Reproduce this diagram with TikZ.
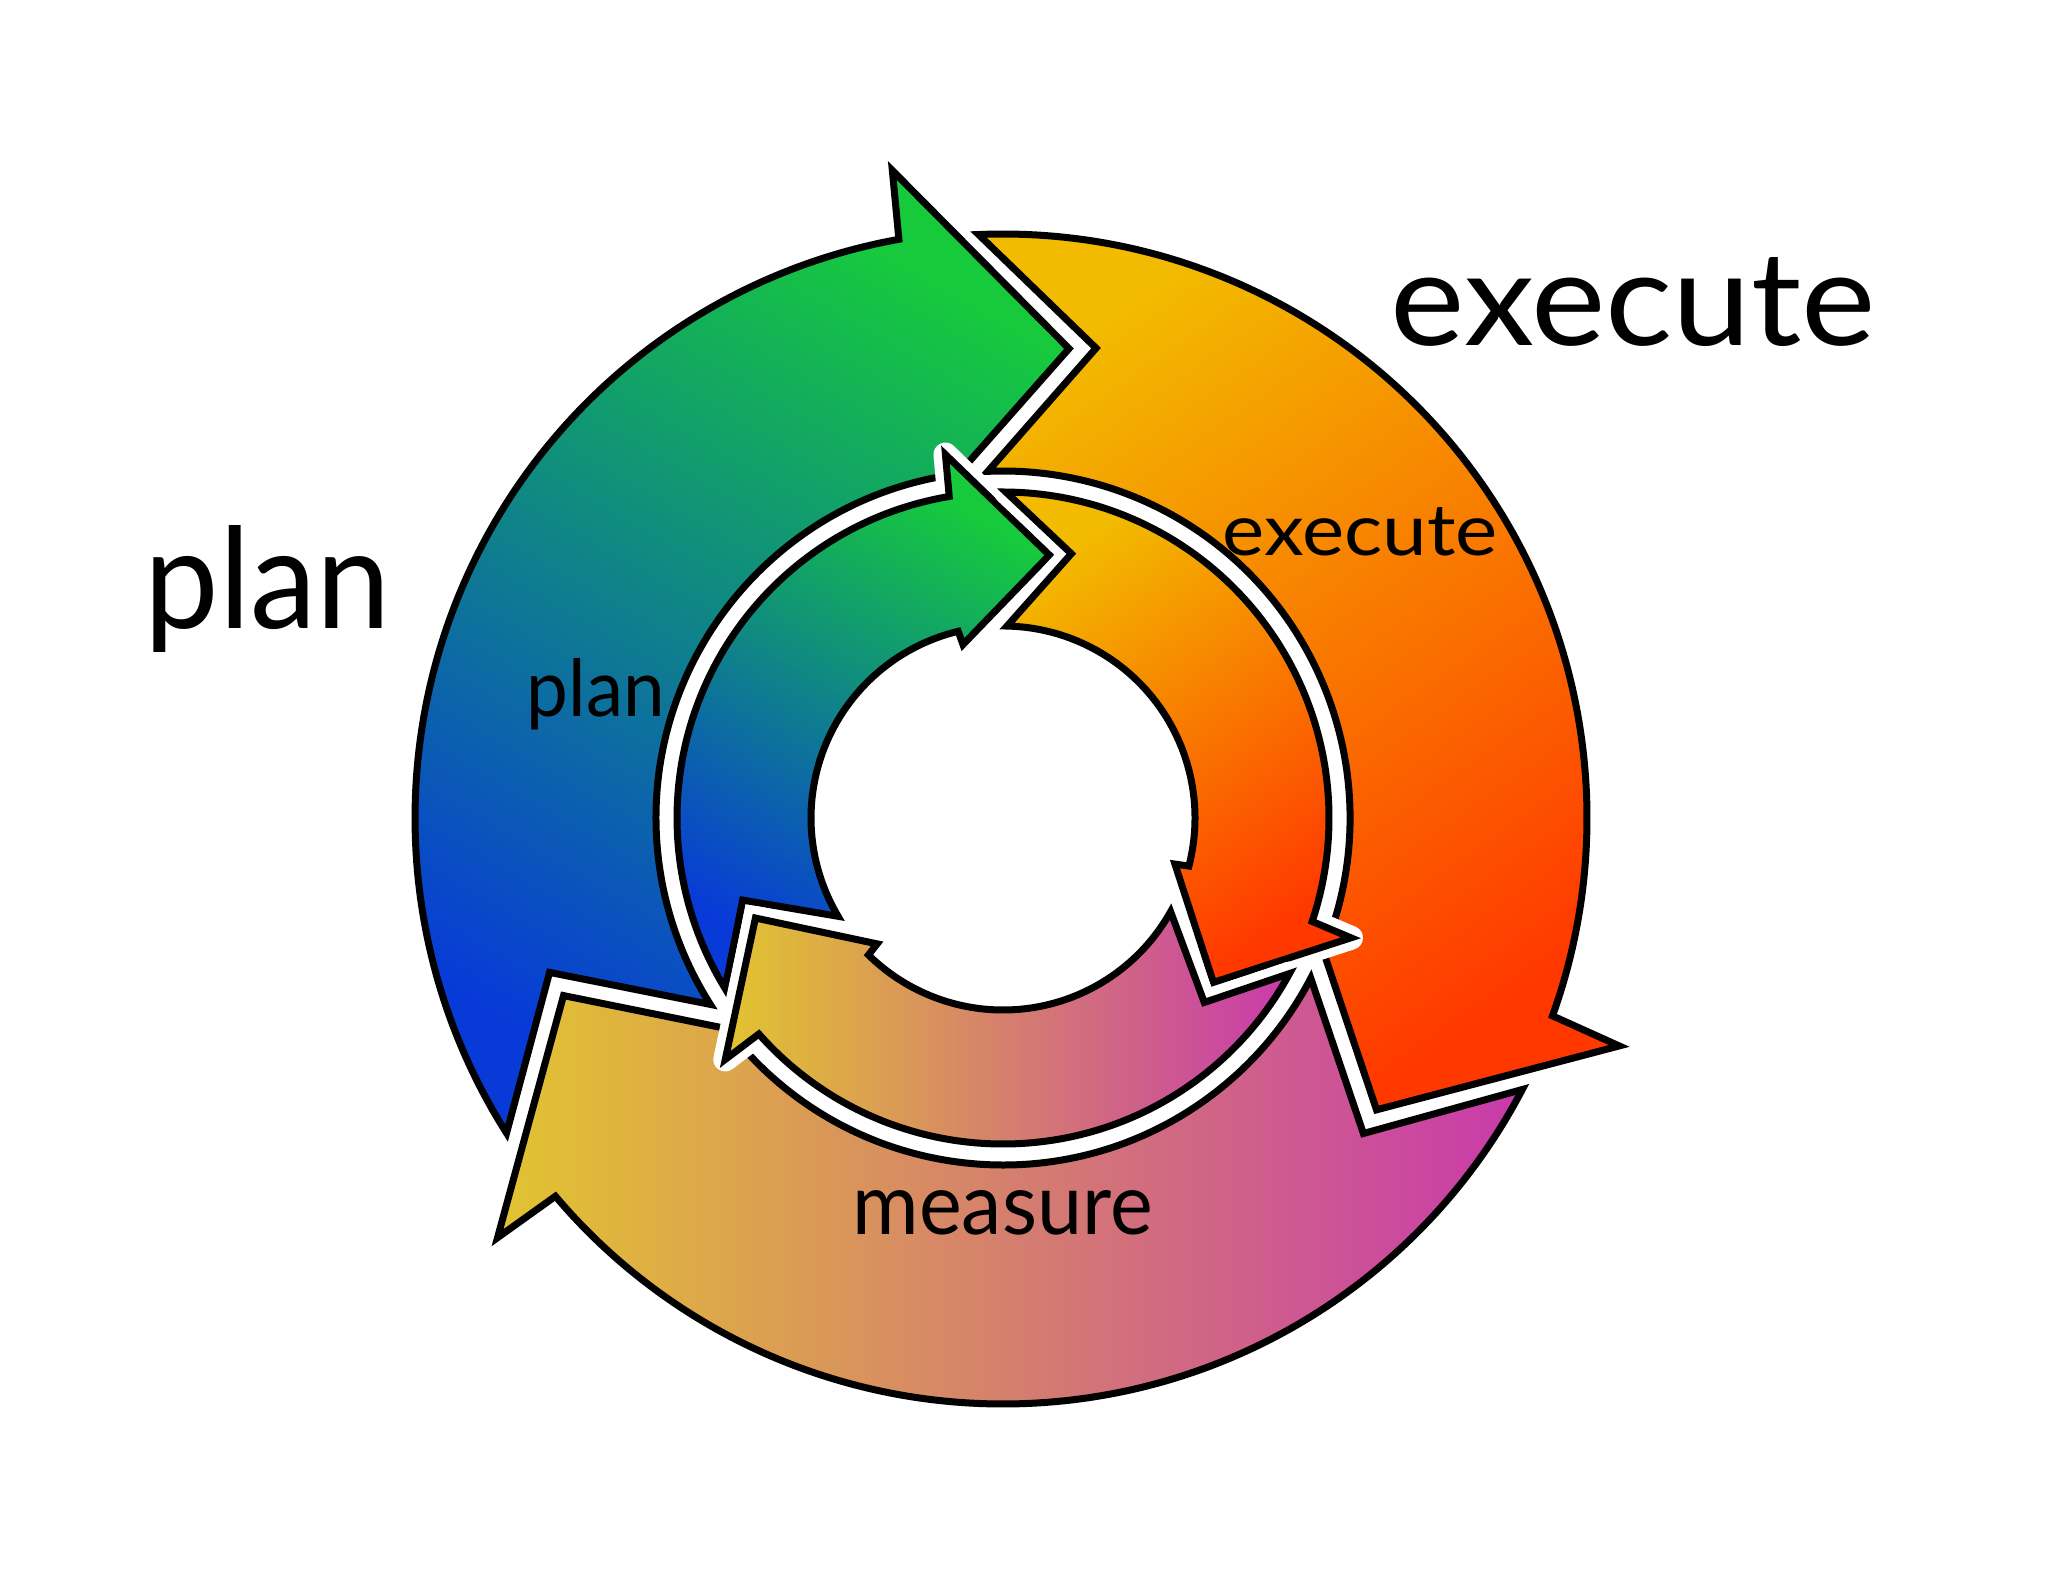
\documentclass[tikz,border=0pt]{standalone}
\usepackage{fontspec}
\usepackage{graphicx}
\newfontfamily\labfont{Lato}
\definecolor{pgreen}{RGB}{22,202,60}
\definecolor{pblue}{RGB}{8,58,216}
\definecolor{eyellow}{RGB}{242,186,0}
\definecolor{ered}{RGB}{255,56,0}
\definecolor{myellow}{RGB}{226,196,48}
\definecolor{mmagenta}{RGB}{200,58,172}
% outer arrow: #1 tip angle, #2 previous tip angle, #3 outer radius
\newcommand\opath[3]{({#2+10.4}:#3) arc[start angle={#2+10.4}, end angle={#1+18.2}, radius=#3] -- ({#1+17.7}:657) -- (#1:474) -- ({#1+15.4}:347) arc[start angle={#1+15.4}, end angle={#2+10.5}, radius=347] -- ({#2-3.2}:479) -- cycle}
% inner arrow: #1 tip angle, #2 previous tip angle
\newcommand\ipath[2]{({#2+9.5}:326) arc[start angle={#2+9.5}, end angle={#1+19.5}, radius=326] -- ({#1+19}:368) -- (#1:267) -- ({#1+23}:178) -- ({#1+23.5}:192) arc[start angle={#1+23.5}, end angle={#2+8.8}, radius=192] -- ({#2-4.5}:273) -- cycle}
\begin{document}
\begin{tikzpicture}[x=0.1mm,y=0.1mm,
  arrowline/.style={draw=black, line width=0.7mm},
  halo/.style={draw=white, line width=2.4mm, line join=round},
  planshade/.style={top color=pgreen, bottom color=pblue, shading angle=-30},
  execshade/.style={top color=eyellow, bottom color=ered, shading angle=35},
  measshade/.style={left color=myellow, right color=mmagenta},
  lab/.style={anchor=base west, inner sep=0pt, text=black}]
\fill[white] (0,0) rectangle (2048,1582);
\useasboundingbox (0,0) rectangle (2048,1582);
\begin{scope}[shift={(1003,764)}]
  % outer ring
  \path[arrowline, planshade] \opath{82}{202}{588};
  \path[arrowline, execshade] \opath{-38}{82}{584};
  \path[arrowline, measshade] \opath{-158}{-38}{586};
  % inner ring
  \path[halo] \ipath{80}{202};
  \path[arrowline, planshade] \ipath{80}{202};
  \path[halo] \ipath{-38}{80};
  \path[arrowline, execshade] \ipath{-38}{80};
  \path[halo] \ipath{-158}{-38};
  \path[arrowline, measshade] \ipath{-158}{-38};
\end{scope}
\node[lab] (planbig) at (144,954) {\resizebox{24.6mm}{10.3mm}{\labfont plan}};
\node[lab] (execbig) at (1390,1237) {\resizebox{48.5mm}{8.8mm}{\labfont execute}};
\node[lab] (plansmall) at (526,866) {\resizebox{13.8mm}{5.8mm}{\labfont plan}};
\node[lab] (execsmall) at (1222,1027) {\resizebox{27.5mm}{4.8mm}{\labfont execute}};
\node[lab] (meassmall) at (852,348) {\resizebox{30mm}{4.4mm}{\labfont measure}};
\end{tikzpicture}
\end{document}
